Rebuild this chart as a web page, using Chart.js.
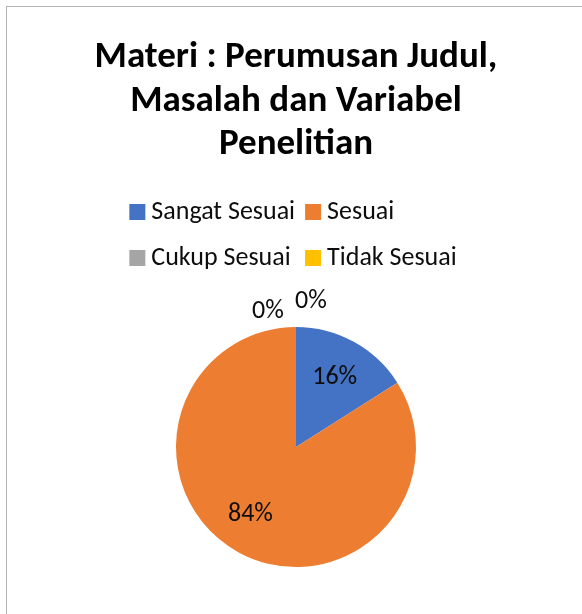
<!DOCTYPE html>
<html>
<head>
<meta charset="utf-8">
<script src="https://cdn.jsdelivr.net/npm/chart.js@4/dist/chart.umd.min.js"></script>
<style>
  html, body { margin: 0; padding: 0; background: #fff; overflow: hidden; }
  #frame {
    position: absolute; left: 6px; top: 6px;
    width: 578px; height: 610px;
    border: 1px solid #b2b2b2;
  }
  canvas { display: block; }
</style>
</head>
<body>
<div id="frame"><canvas id="pie" width="578" height="610"></canvas></div>
<script>
"use strict";

const titleLines = ["Materi : Perumusan Judul,", "Masalah dan Variabel", "Penelitian"];
const categories = ["Sangat Sesuai", "Sesuai", "Cukup Sesuai", "Tidak Sesuai"];
const percentages = [16, 84, 0, 0];
const sliceColors = ["#4472C4", "#ED7D31", "#A5A5A5", "#FFC000"];

const FONT = "Carlito, Lato, 'Open Sans', sans-serif";
const TEXT = "#0d0d0d";

// Legend drawn as a two-column grid above the pie, like the office chart
const gridLegend = {
  id: "gridLegend",
  afterDraw(chart) {
    const ctx = chart.ctx;
    const box = 16, gap = 6, colGap = 10, rowGap = 46;
    ctx.save();
    ctx.font = "26px " + FONT;
    ctx.textBaseline = "middle";
    ctx.fillStyle = TEXT;
    const widths = categories.map(t => box + gap + ctx.measureText(t).width);
    const col1 = Math.max(widths[0], widths[2]) + colGap;
    const col2 = Math.max(widths[1], widths[3]);
    const left = chart.width / 2 - (col1 + col2) / 2 - 3;
    const top = chart.chartArea.top - 67;
    categories.forEach((label, i) => {
      const x = left + (i % 2) * col1;
      const y = top + Math.floor(i / 2) * rowGap;
      ctx.fillStyle = sliceColors[i];
      ctx.fillRect(x, y - box / 2, box, box);
      ctx.fillStyle = TEXT;
      ctx.fillText(label, x + box + gap, y + 1);
    });
    ctx.restore();
  },
};

// Percentage labels on the slices (zero slices go just outside the top)
const sliceLabels = {
  id: "sliceLabels",
  afterDatasetsDraw(chart) {
    const ctx = chart.ctx;
    const meta = chart.getDatasetMeta(0);
    const zeroShift = [[-28, 15], [15, 25]];
    let zeroCount = 0;
    ctx.save();
    ctx.font = "26px " + FONT;
    ctx.textAlign = "center";
    ctx.textBaseline = "middle";
    ctx.fillStyle = TEXT;
    meta.data.forEach((arc, i) => {
      const { x, y, startAngle, endAngle, outerRadius } = arc.getProps(["x", "y", "startAngle", "endAngle", "outerRadius"], true);
      const text = percentages[i] + "%";
      if (endAngle - startAngle > 0.001) {
        // big slice sits a little further round, as in the original
        const mid = (startAngle + endAngle) / 2 + (percentages[i] > 50 ? 0.1 : 0);
        const r = outerRadius * 0.67;
        ctx.fillText(text, x + Math.cos(mid) * r, y + Math.sin(mid) * r + 1);
      } else {
        const s = zeroShift[zeroCount++ % 2];
        ctx.fillText(text, x + s[0], y - outerRadius - s[1]);
      }
    });
    ctx.restore();
  },
};

new Chart(document.getElementById("pie"), {
  type: "pie",
  data: {
    labels: categories,
    datasets: [{
      data: percentages,
      backgroundColor: sliceColors,
      borderWidth: 0,
      radius: 120,
    }],
  },
  options: {
    responsive: false,
    animation: false,
    layout: { padding: { bottom: 2 } },
    plugins: {
      legend: { display: false },
      tooltip: { enabled: false },
      title: {
        display: true,
        text: titleLines,
        color: "#000",
        font: { family: FONT, size: 37, weight: "bold", lineHeight: 1.18 },
        padding: { top: 29, bottom: 112 },
      },
    },
  },
  plugins: [gridLegend, sliceLabels],
});
</script>
</body>
</html>
